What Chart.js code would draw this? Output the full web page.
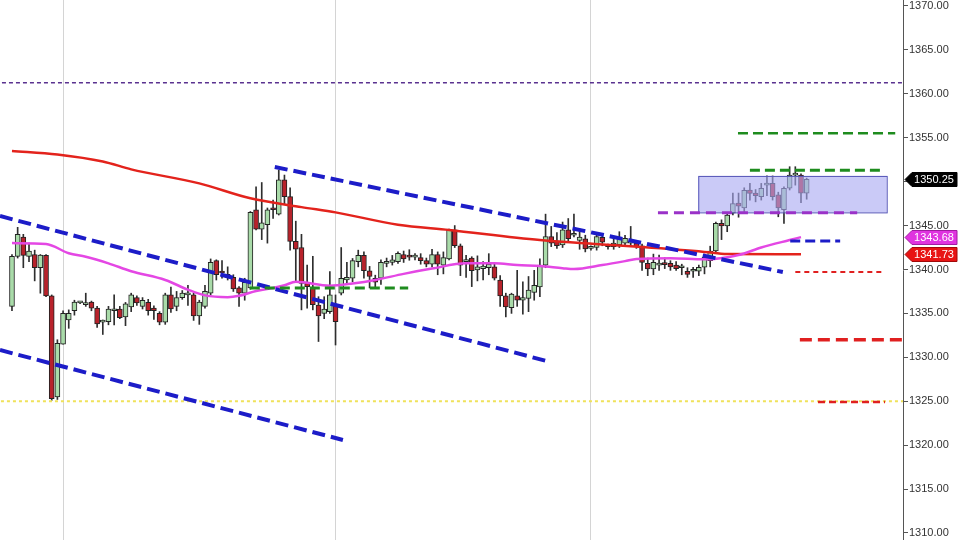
<!DOCTYPE html>
<html>
<head>
<meta charset="utf-8">
<script src="https://cdn.jsdelivr.net/npm/chart.js@4.4.0/dist/chart.umd.min.js"></script>
<style>
  html, body { margin: 0; padding: 0; background: #fff; }
  #wrap { width: 960px; height: 540px; }
</style>
</head>
<body>
<div id="wrap"><canvas id="chart"></canvas></div>
<script>
// candles (index = bar number)
const candleOpen = [
  1335.8, 1341.5, 1343.7, 1341.5, 1341.7, 1340.2, 1341.6, 1337.0, 1325.5, 1331.5,
  1334.25, 1335.3, 1336.2, 1336.0, 1336.3, 1335.6, 1334.0, 1334.05, 1335.3, 1335.5,
  1334.6, 1335.75, 1336.8, 1335.8, 1336.25, 1335.6, 1335.0, 1334.0, 1337.1, 1335.8,
  1336.8, 1337.1, 1337.1, 1334.7, 1335.8, 1337.3, 1341.0, 1339.7, 1339.1, 1339.1,
  1337.9, 1337.3, 1337.9, 1346.8, 1344.6, 1345.1, 1347.0, 1346.3, 1350.2, 1348.3,
  1343.2, 1342.5, 1338.55, 1338.0, 1335.95, 1335.0, 1335.2, 1335.95, 1337.3, 1338.8,
  1339.0, 1340.9, 1341.6, 1339.85, 1339.0, 1339.0, 1340.7, 1340.8, 1340.9, 1341.7,
  1341.6, 1341.4, 1341.35, 1341.0, 1340.6, 1341.7, 1340.5, 1341.2, 1344.5, 1342.7,
  1340.9, 1341.3, 1339.95, 1340.1, 1340.2, 1340.3, 1338.8, 1337.0, 1335.65, 1337.0,
  1336.5, 1336.7, 1337.4, 1338.0, 1340.5, 1343.75, 1343.25, 1342.8, 1344.5, 1343.9,
  1343.3, 1343.5, 1342.4, 1342.5, 1343.65, 1342.6, 1342.6, 1342.8, 1343.0, 1343.0,
  1343.0, 1342.7, 1340.7, 1340.05, 1340.5, 1340.6, 1340.7, 1340.5, 1340.2, 1339.8,
  1339.8, 1339.8, 1340.25, 1341.0, 1342.1, 1345.25, 1344.95, 1346.4, 1347.55, 1347.0,
  1349.05, 1348.7, 1348.3, 1349.6, 1349.8, 1348.5, 1346.8, 1349.25, 1350.75, 1350.75,
  1348.7
];
const candleHigh = [
  1341.7, 1344.8, 1344.0, 1343.0, 1342.2, 1341.7, 1341.7, 1337.1, 1332.0, 1335.3,
  1335.4, 1336.5, 1336.35, 1337.3, 1336.4, 1335.8, 1334.25, 1335.8, 1337.1, 1335.8,
  1336.25, 1337.3, 1337.0, 1336.8, 1336.6, 1335.85, 1335.2, 1337.3, 1338.0, 1337.5,
  1337.6, 1338.2, 1337.3, 1336.5, 1338.2, 1341.2, 1341.1, 1341.0, 1340.3, 1339.4,
  1338.05, 1339.0, 1346.6, 1349.4, 1349.9, 1347.0, 1347.9, 1351.3, 1350.75, 1349.3,
  1345.5, 1344.0, 1340.5, 1341.5, 1336.9, 1336.9, 1339.75, 1337.1, 1342.5, 1340.8,
  1341.25, 1342.2, 1342.0, 1340.35, 1339.35, 1341.1, 1341.3, 1341.6, 1342.0, 1342.1,
  1342.25, 1341.8, 1341.8, 1341.3, 1342.3, 1342.0, 1342.0, 1344.6, 1345.0, 1342.9,
  1341.6, 1341.45, 1341.55, 1340.9, 1341.8, 1340.7, 1339.3, 1337.3, 1337.3, 1339.9,
  1338.6, 1339.2, 1339.9, 1341.2, 1346.3, 1344.9, 1344.2, 1345.4, 1345.8, 1346.3,
  1344.6, 1343.9, 1342.7, 1344.0, 1344.1, 1342.9, 1343.6, 1344.3, 1343.9, 1344.9,
  1343.3, 1342.9, 1341.3, 1341.75, 1341.65, 1341.35, 1341.0, 1340.9, 1340.6, 1340.2,
  1340.25, 1340.5, 1341.75, 1342.65, 1345.4, 1345.65, 1346.4, 1348.7, 1348.7, 1349.3,
  1349.8, 1349.1, 1349.8, 1350.65, 1350.65, 1348.8, 1349.4, 1351.7, 1351.7, 1350.9,
  1350.4
];
const candleLow = [
  1335.3, 1341.3, 1340.2, 1340.9, 1338.7, 1337.3, 1336.9, 1325.1, 1325.2, 1331.5,
  1333.3, 1334.8, 1336.1, 1335.8, 1335.3, 1333.4, 1332.6, 1333.7, 1333.7, 1334.4,
  1333.6, 1335.2, 1335.9, 1335.5, 1334.8, 1334.3, 1333.7, 1333.75, 1335.1, 1335.3,
  1336.6, 1335.9, 1334.2, 1333.75, 1335.6, 1337.1, 1338.8, 1339.0, 1338.8, 1337.5,
  1335.8, 1336.5, 1337.75, 1344.5, 1343.4, 1343.0, 1345.8, 1346.2, 1347.4, 1342.2,
  1338.6, 1335.4, 1335.6, 1335.4, 1331.8, 1334.4, 1335.0, 1331.4, 1337.1, 1338.4,
  1338.6, 1340.3, 1339.0, 1337.9, 1337.9, 1338.3, 1340.3, 1340.5, 1340.7, 1340.8,
  1341.05, 1341.1, 1340.6, 1340.3, 1340.3, 1339.4, 1339.5, 1341.1, 1342.5, 1339.3,
  1339.1, 1338.05, 1338.7, 1338.8, 1339.4, 1338.8, 1335.8, 1334.6, 1335.0, 1335.8,
  1334.9, 1335.2, 1336.5, 1336.9, 1340.2, 1342.6, 1342.4, 1342.5, 1343.2, 1343.7,
  1342.3, 1342.0, 1342.2, 1342.2, 1342.7, 1342.3, 1342.3, 1342.5, 1342.8, 1342.6,
  1342.4, 1339.9, 1339.3, 1339.4, 1339.9, 1340.1, 1339.9, 1339.9, 1339.4, 1339.1,
  1339.1, 1339.3, 1339.5, 1340.3, 1342.0, 1343.4, 1344.3, 1346.2, 1345.95, 1346.6,
  1347.9, 1347.7, 1347.9, 1348.4, 1347.9, 1346.0, 1345.25, 1349.05, 1349.6, 1347.6,
  1348.0
];
const candleClose = [
  1341.5, 1344.0, 1341.6, 1342.1, 1340.2, 1341.65, 1337.0, 1325.3, 1331.6, 1335.0,
  1335.0, 1336.3, 1336.25, 1336.1, 1335.6, 1333.8, 1334.05, 1335.5, 1335.4, 1334.5,
  1336.1, 1337.1, 1336.2, 1336.5, 1335.3, 1335.3, 1334.0, 1337.1, 1335.5, 1336.8,
  1337.3, 1337.15, 1334.7, 1336.3, 1337.5, 1340.8, 1339.4, 1339.6, 1339.45, 1337.8,
  1337.3, 1338.55, 1346.5, 1344.6, 1345.3, 1346.8, 1346.8, 1350.2, 1348.3, 1343.2,
  1342.3, 1338.4, 1338.05, 1336.0, 1334.7, 1335.5, 1337.1, 1334.05, 1339.0, 1339.1,
  1341.0, 1341.6, 1339.85, 1339.2, 1338.55, 1340.8, 1340.9, 1341.1, 1341.85, 1341.2,
  1341.4, 1341.5, 1341.0, 1340.6, 1341.7, 1340.6, 1341.35, 1344.5, 1342.7, 1340.5,
  1341.1, 1339.85, 1340.3, 1340.4, 1340.6, 1339.0, 1337.0, 1335.75, 1337.2, 1336.5,
  1336.8, 1337.65, 1338.2, 1340.5, 1343.75, 1343.0, 1342.7, 1344.5, 1343.5, 1344.0,
  1343.7, 1342.35, 1342.5, 1343.75, 1343.1, 1342.65, 1343.0, 1343.55, 1343.55, 1343.1,
  1342.6, 1340.8, 1340.05, 1340.8, 1340.55, 1340.55, 1340.3, 1340.1, 1340.3, 1339.45,
  1339.85, 1340.25, 1341.4, 1342.1, 1345.25, 1344.95, 1346.2, 1347.5, 1347.2, 1349.0,
  1348.65, 1348.4, 1349.25, 1349.7, 1348.3, 1347.0, 1349.25, 1350.75, 1350.8, 1348.7,
  1350.25
];

// moving averages (bar index, price)
const maSlowIdx = [0, 8, 16, 21, 33, 42, 51, 57, 68, 77, 93, 104, 111, 122, 126, 139];
const maSlowVal = [1353.5, 1353.1, 1352.3, 1351.4, 1349.8, 1348.1, 1347.1, 1346.5, 1345.1,
  1344.5, 1343.35, 1342.85, 1342.55, 1342.0, 1341.75, 1341.73];
const maFastIdx = [0, 6, 10, 13, 17, 21, 27, 31, 34, 38, 40, 43, 46, 48, 50, 56, 60, 64, 69,
  74, 80, 85, 89, 93, 97, 99, 104, 108, 110, 116, 122, 128, 132, 137, 139];
const maFastVal = [1343.0, 1342.9, 1341.85, 1341.45, 1340.7, 1339.8, 1338.8, 1337.7, 1337.05,
  1336.85, 1337.0, 1337.55, 1337.9, 1338.2, 1338.6, 1338.15, 1338.4, 1338.8, 1339.5, 1340.1,
  1340.7, 1340.7, 1340.5, 1340.4, 1340.15, 1340.05, 1340.5, 1340.95, 1341.2, 1341.27, 1341.15,
  1341.65, 1342.5, 1343.35, 1343.68];

// trend lines: [startIndex, startPrice, endIndex, endPrice]
const trendUpper = [46.3, 1351.67, 135.8, 1339.71];
const trendMiddle = [-2.11, 1346.09, 94.8, 1329.47];
const trendLower = [-2.11, 1330.83, 58.3, 1320.59];

// level lines: [fromIndex, toIndex, price]
const levelGreenLow = [41.9, 69.8, 1337.9];
const levelPurple = [113.8, 148.9, 1346.45];
const levelGreenMid = [130.0, 152.9, 1351.3];
const levelGreenHigh = [127.9, 155.6, 1355.5];
const levelBlue = [137.1, 145.9, 1343.25];
const levelRedThin = [138.0, 153.8, 1339.7];
const levelRedThick = [138.8, 157.0, 1332.0];
const levelRedLow = [142.0, 153.8, 1324.9];
const levelPurpleDotted = [-3, 160, 1361.25];
const levelYellowDotted = [-3, 160, 1325.0];

// consolidation box [fromIndex, toIndex, top, bottom]
const boxZone = [120.9, 154.1, 1350.65, 1346.5];

// session separators (bar index)
const sessionBreaks = [9, 57, 102];

const idx = candleOpen.map((_, i) => i);
const upColor = '#a9dba9';
const downColor = '#b8222b';
const bodyColors = idx.map(i => candleClose[i] >= candleOpen[i] ? upColor : downColor);

function seg(t) { return [{x: t[0], y: t[1]}, {x: t[2], y: t[3]}]; }
function level(l) { return [{x: l[0], y: l[2]}, {x: l[1], y: l[2]}]; }
function lineSet(data, color, width, dash, order) {
  return {
    type: 'line', data: data, borderColor: color, borderWidth: width,
    borderDash: dash, pointRadius: 0, fill: false, tension: 0, order: order
  };
}

const overlay = {
  id: 'overlay',
  afterDatasetDraw(chart, args) {
    if (args.index !== 1) return; // right after candle bodies
    const {ctx, scales: {x, y}} = chart;
    const x0 = x.getPixelForValue(boxZone[0]), x1 = x.getPixelForValue(boxZone[1]);
    const y0 = y.getPixelForValue(boxZone[2]), y1 = y.getPixelForValue(boxZone[3]);
    ctx.save();
    ctx.fillStyle = 'rgba(170,170,242,0.62)';
    ctx.fillRect(x0, y0, x1 - x0, y1 - y0);
    ctx.strokeStyle = '#5656b8';
    ctx.lineWidth = 1;
    ctx.strokeRect(x0 + 0.5, y0 + 0.5, x1 - x0, y1 - y0);
    ctx.restore();
  },
  afterDraw(chart) {
    const {ctx, chartArea, scales: {y}} = chart;
    const tags = [
      [candleClose[candleClose.length - 1], '#000000', '#000000'],
      [maFastVal[maFastVal.length - 1], '#e034e0', '#a01ca0'],
      [maSlowVal[maSlowVal.length - 1], '#e81414', '#a00a0a']
    ];
    ctx.save();
    tags.forEach(t => {
      const py = Math.round(y.getPixelForValue(t[0])) + 0.5;
      const left = chartArea.right + 2, right = 957, h = 7;
      ctx.beginPath();
      ctx.moveTo(left, py);
      ctx.lineTo(left + 7, py - h);
      ctx.lineTo(right, py - h);
      ctx.lineTo(right, py + h);
      ctx.lineTo(left + 7, py + h);
      ctx.closePath();
      ctx.fillStyle = t[1];
      ctx.fill();
      ctx.strokeStyle = t[2];
      ctx.lineWidth = 1;
      ctx.stroke();
      ctx.fillStyle = '#ffffff';
      ctx.font = '11px "Liberation Sans", Arial, sans-serif';
      ctx.textAlign = 'center';
      ctx.textBaseline = 'middle';
      ctx.fillText(t[0].toFixed(2), (left + 6 + right) / 2, py + 0.5);
    });
    ctx.restore();
  }
};

new Chart(document.getElementById('chart'), {
  type: 'bar',
  data: {
    datasets: [
      {
        label: 'wicks', data: idx.map(i => ({x: i, y: [candleLow[i], candleHigh[i]]})),
        backgroundColor: '#2e2e2e', borderWidth: 0, barThickness: 1, grouped: false,
        minBarLength: 1, order: 20
      },
      {
        label: 'bodies', data: idx.map(i => ({x: i, y: [candleOpen[i], candleClose[i]]})),
        backgroundColor: bodyColors, borderColor: '#222222', borderWidth: 1,
        borderSkipped: false, barThickness: 5, grouped: false, minBarLength: 2, order: 19
      },
      lineSet(level(levelYellowDotted), '#f0e25a', 2, [3, 3], 12),
      lineSet(level(levelPurpleDotted), '#5a3290', 1.5, [4, 3], 12),
      Object.assign(lineSet(maSlowIdx.map((v, k) => ({x: v, y: maSlowVal[k]})), '#e3231c', 2.5, [], 10),
        {cubicInterpolationMode: 'monotone'}),
      Object.assign(lineSet(maFastIdx.map((v, k) => ({x: v, y: maFastVal[k]})), '#e447e4', 2.5, [], 9),
        {cubicInterpolationMode: 'monotone'}),
      lineSet(seg(trendUpper), '#1c1cc8', 4, [13, 6], 5),
      lineSet(seg(trendMiddle), '#1c1cc8', 4, [13, 6], 5),
      lineSet(seg(trendLower), '#1c1cc8', 4, [13, 6], 5),
      lineSet(level(levelGreenLow), '#1e8c1e', 3, [10, 5], 4),
      lineSet(level(levelPurple), '#9a32c8', 3, [10, 6], 4),
      lineSet(level(levelGreenMid), '#1e8c1e', 3, [10, 5], 4),
      lineSet(level(levelGreenHigh), '#1e8c1e', 2.5, [10, 5], 4),
      lineSet(level(levelBlue), '#1c1cc8', 3, [10, 5], 4),
      lineSet(level(levelRedThin), '#e02020', 2, [5, 4], 4),
      lineSet(level(levelRedThick), '#e02020', 3.5, [12, 6], 4),
      lineSet(level(levelRedLow), '#e02020', 2.5, [7, 4], 4)
    ]
  },
  options: {
    responsive: true,
    maintainAspectRatio: false,
    animation: false,
    layout: { padding: 0 },
    plugins: { legend: { display: false }, tooltip: { enabled: false } },
    scales: {
      x: {
        type: 'linear', min: -2.11, max: 156.97, offset: false,
        grid: { offset: false, color: '#d4d4d4', lineWidth: 1, drawTicks: false },
        border: { display: false },
        ticks: { display: false },
        afterBuildTicks: s => { s.ticks = sessionBreaks.map(v => ({value: v})); }
      },
      y: {
        type: 'linear', position: 'right', min: 1309.2, max: 1370.68,
        grid: { drawOnChartArea: false, drawTicks: true, tickLength: 5, color: '#555555' },
        border: { display: true, color: '#555555' },
        ticks: {
          stepSize: 5, includeBounds: false, padding: 1, color: '#333333',
          font: { family: '"Liberation Sans", Arial, sans-serif', size: 11 },
          callback: v => v.toFixed(2)
        },
        afterFit: s => { s.width = 57; s.paddingTop = 0; s.paddingBottom = 0; }
      }
    }
  },
  plugins: [overlay]
});
</script>
</body>
</html>
